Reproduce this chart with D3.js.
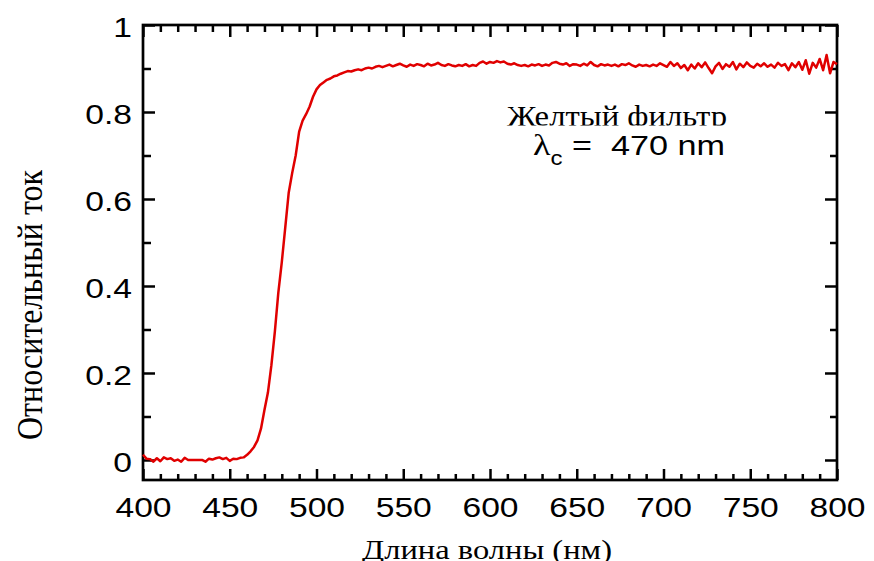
<!DOCTYPE html>
<html>
<head>
<meta charset="utf-8">
<script src="https://cdn.jsdelivr.net/npm/d3@7"></script>
<style>
  body { margin: 0; background: #fff; }
  svg { display: block; }
</style>
</head>
<body>
<svg id="chart" width="874" height="561"></svg>
<script>
// wavelength grid, nm (every 2 nm from 400 to 800)
const wavelengths = d3.range(400, 801, 2)

// relative photocurrent, one value per wavelength
const current = [
  // 400 - 460
  0.012, 0.003, 0.002, -0.004, 0.004, -0.003, 0.006, 0.002, 0.004, -0.002,
  0.001, -0.004, 0.005, 0.000, 0.000, 0.000, 0.000, 0.000, -0.004, 0.003,
  0.001, 0.004, 0.006, 0.002, 0.005, -0.002, 0.003, 0.002, 0.005, 0.006,
  0.012,
  // 462 - 538
  0.020, 0.030, 0.045, 0.072, 0.115, 0.155, 0.218, 0.295, 0.385, 0.455,
  0.535, 0.615, 0.660, 0.700, 0.755, 0.780, 0.795, 0.812, 0.835, 0.852,
  0.862, 0.868, 0.874, 0.877, 0.882, 0.884, 0.888, 0.891, 0.894, 0.893,
  0.896, 0.898, 0.896, 0.900, 0.902, 0.900, 0.904, 0.906, 0.903,
  // 540 - 598
  0.906, 0.909, 0.905, 0.908, 0.911, 0.907, 0.904, 0.909, 0.906, 0.910,
  0.908, 0.905, 0.911, 0.907, 0.909, 0.913, 0.908, 0.906, 0.910, 0.907,
  0.905, 0.908, 0.906, 0.910, 0.905, 0.908, 0.906, 0.913, 0.916, 0.911,
  // 600 - 658
  0.915, 0.913, 0.917, 0.914, 0.916, 0.911, 0.909, 0.912, 0.908, 0.906,
  0.908, 0.905, 0.909, 0.907, 0.910, 0.906, 0.909, 0.907, 0.913, 0.915,
  0.911, 0.909, 0.912, 0.906, 0.910, 0.909, 0.906, 0.911, 0.907, 0.915,
  // 660 - 718
  0.908, 0.905, 0.910, 0.907, 0.909, 0.906, 0.909, 0.905, 0.910, 0.908,
  0.912, 0.907, 0.904, 0.909, 0.906, 0.908, 0.905, 0.909, 0.906, 0.912,
  0.908, 0.904, 0.915, 0.906, 0.912, 0.901, 0.908, 0.896, 0.909, 0.900,
  // 720 - 778
  0.912, 0.903, 0.914, 0.901, 0.889, 0.905, 0.913, 0.899, 0.910, 0.904,
  0.915, 0.898, 0.911, 0.903, 0.914, 0.906, 0.902, 0.911, 0.905, 0.912,
  0.904, 0.909, 0.902, 0.913, 0.906, 0.910, 0.896, 0.912, 0.903, 0.915,
  // 780 - 800
  0.897, 0.919, 0.888, 0.913, 0.902, 0.922, 0.896, 0.931, 0.889, 0.915,
  0.910
]

const xMajor = d3.range(400, 801, 50)
const xMinor = d3.range(400, 801, 10).filter(v => v % 50 !== 0)
const yMajor = [0, 0.2, 0.4, 0.6, 0.8, 1]
const yMinor = [0.1, 0.3, 0.5, 0.7, 0.9]

const xTitle = 'Длина волны (нм)'
const yTitle = 'Относительный ток'
const filterName = 'Желтый фильтр'

function makeChart() {
  const svg = d3.select('#chart')
  const margin = { top: 25, right: 37, bottom: 81, left: 143 }
  const width = 874 - margin.left - margin.right
  const height = 561 - margin.top - margin.bottom

  const x = d3.scaleLinear().domain([400, 800]).range([0, width])
  const y = d3.scaleLinear().domain([-0.046, 1]).range([height, 0])

  const g = svg.append('g')
    .attr('transform', `translate(${margin.left},${margin.top})`)

  // the text in the original is stretched sideways
  function stretch(sel) {
    sel.each(function() {
      const w = this.getComputedTextLength()
      d3.select(this).attr('textLength', w * 1.2).attr('lengthAdjust', 'spacingAndGlyphs')
    })
  }

  function styleAxis(a) {
    a.select('.domain').remove()
    a.selectAll('line').attr('stroke', '#000').attr('stroke-width', 2.5)
    a.selectAll('text')
      .attr('fill', '#000')
      .style('font-family', '"Liberation Sans", Arial, sans-serif')
      .style('font-size', '28px')
  }

  // bottom axis
  const bottom = g.append('g').attr('transform', `translate(0,${height})`)
    .call(d3.axisBottom(x).tickValues(xMajor).tickSize(-11).tickPadding(17).tickFormat(d3.format('d')))
  styleAxis(bottom)
  bottom.selectAll('text').call(stretch)
  g.append('g').attr('transform', `translate(0,${height})`)
    .call(d3.axisBottom(x).tickValues(xMinor).tickSize(-6).tickFormat(''))
    .call(styleAxis)

  // top axis
  g.append('g')
    .call(d3.axisTop(x).tickValues(xMajor).tickSize(-12).tickFormat(''))
    .call(styleAxis)
  g.append('g')
    .call(d3.axisTop(x).tickValues(xMinor).tickSize(-7).tickFormat(''))
    .call(styleAxis)

  // left axis
  const left = g.append('g')
    .call(d3.axisLeft(y).tickValues(yMajor).tickSize(-12).tickPadding(11).tickFormat(d => d === 0 || d === 1 ? d3.format('d')(d) : d3.format('.1f')(d)))
  styleAxis(left)
  left.selectAll('text').attr('dy', '0.40em').call(stretch)
  g.append('g')
    .call(d3.axisLeft(y).tickValues(yMinor).tickSize(-8).tickFormat(''))
    .call(styleAxis)

  // right axis
  g.append('g').attr('transform', `translate(${width},0)`)
    .call(d3.axisRight(y).tickValues(yMajor).tickSize(-12).tickFormat(''))
    .call(styleAxis)
  g.append('g').attr('transform', `translate(${width},0)`)
    .call(d3.axisRight(y).tickValues(yMinor).tickSize(-7).tickFormat(''))
    .call(styleAxis)

  // frame
  g.append('rect')
    .attr('width', width)
    .attr('height', height)
    .attr('fill', 'none')
    .attr('stroke', '#000')
    .attr('stroke-width', 2.7)

  // curve
  const line = d3.line()
    .x((d, i) => x(wavelengths[i]))
    .y(d => y(d))
  g.append('path')
    .datum(current)
    .attr('d', line)
    .attr('fill', 'none')
    .attr('stroke', '#e00000')
    .attr('stroke-width', 2.5)
    .attr('stroke-linejoin', 'round')

  // axis titles
  svg.append('text')
    .attr('x', 487)
    .attr('y', 559)
    .attr('text-anchor', 'middle')
    .style('font-family', '"Liberation Serif", "Times New Roman", serif')
    .style('font-size', '27px')
    .attr('textLength', 250)
    .attr('lengthAdjust', 'spacingAndGlyphs')
    .text(xTitle)

  svg.append('text')
    .attr('transform', 'translate(42,305) rotate(-90)')
    .attr('text-anchor', 'middle')
    .style('font-family', '"Liberation Serif", "Times New Roman", serif')
    .style('font-size', '35px')
    .attr('textLength', 270)
    .attr('lengthAdjust', 'spacingAndGlyphs')
    .text(yTitle)

  // annotation, bottom of the first line is cut off in the original
  svg.append('clipPath').attr('id', 'cut')
    .append('rect').attr('x', 450).attr('y', 80).attr('width', 350).attr('height', 45.5)
  svg.append('text')
    .attr('clip-path', 'url(#cut)')
    .attr('x', 507)
    .attr('y', 126)
    .style('font-family', '"Liberation Serif", "Times New Roman", serif')
    .style('font-size', '30px')
    .attr('textLength', 220)
    .attr('lengthAdjust', 'spacingAndGlyphs')
    .text(filterName)

  const lam = svg.append('g').attr('transform', 'translate(533,155) scale(1.2,1)')
    .append('text')
    .style('font-family', '"Liberation Sans", Arial, sans-serif')
    .style('font-size', '28.5px')
  lam.append('tspan').style('font-family', '"Liberation Serif", serif').style('font-size', '30px').text('λ')
  lam.append('tspan').attr('dy', 10).style('font-size', '20px').text('c')
  lam.append('tspan').attr('dy', -10).attr('xml:space', 'preserve').text(' =  470 nm')
}

window.onload = makeChart
</script>
</body>
</html>
